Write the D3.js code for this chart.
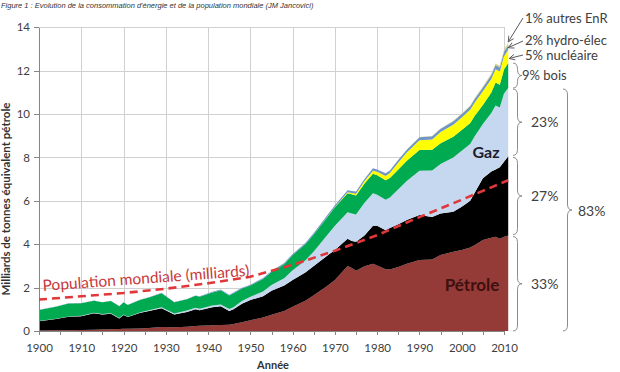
<!DOCTYPE html>
<html>
<head>
<meta charset="utf-8">
<script src="https://cdn.jsdelivr.net/npm/d3@7"></script>
<style>
  body { margin: 0; background: #fff; }
  svg { display: block; font-family: Lato, "Open Sans", sans-serif; }
  .grid line { stroke: #d0d0d0; stroke-width: 1; shape-rendering: crispEdges; }
  .axis path, .axis line { stroke: #868686; shape-rendering: crispEdges; }
  .axis text { fill: #404040; font-size: 11.5px; font-family: Lato, sans-serif; }
  .note { fill: #404040; font-size: 13px; }
  .pct { fill: #404040; font-size: 14px; }
  .brace { fill: none; stroke: #8c8c8c; stroke-width: 1; }
</style>
</head>
<body>
<svg id="chart" width="620" height="372"></svg>
<script>
// ---- données (Gtep) ----
const years = [1900,1904,1907,1910,1913,1915,1917,1919,1920,1921,
  1924,1926,1929,1932,1935,1937,1938,1941,1943,1945,
  1946,1948,1950,1953,1955,1958,1960,1963,1965,
  1968,1970,1973,1974,1975,1977,1979,1980,1982,1983,
  1985,1987,1990,1993,1995,1998,2000,2002,2003,2005,
  2007,2008,2009,2010,2011];

const petrole = [.02,.03,.04,.05,.06,.07,.08,.09,.10,.10,
  .12,.14,.18,.17,.20,.23,.24,.27,.28,.29,
  .32,.40,.50,.62,.75,.92,1.12,1.40,1.65,
  2.05,2.35,3.00,2.90,2.78,2.98,3.10,3.02,2.85,2.84,
  2.95,3.10,3.27,3.30,3.50,3.65,3.73,3.85,3.95,4.19,
  4.30,4.35,4.25,4.35,4.40];

const charbon = [.43,.52,.62,.63,.76,.69,.72,.49,.64,.54,
  .72,.78,.87,.59,.68,.77,.72,.83,.86,.63,
  .68,.86,.93,.98,1.10,1.18,1.23,1.30,1.35,
  1.40,1.38,1.25,1.25,1.34,1.42,1.75,1.83,1.80,1.91,
  1.97,2.02,2.08,1.95,1.92,1.85,2.00,2.15,2.40,2.85,
  3.05,3.10,3.30,3.45,3.65];

const gaz = [.01,.01,.01,.02,.02,.02,.02,.02,.02,.02,
  .03,.04,.05,.05,.06,.07,.07,.08,.08,.09,
  .10,.12,.15,.22,.27,.33,.45,.55,.67,
  .93,1.12,1.22,1.27,1.25,1.51,1.50,1.43,1.40,1.40,
  1.61,1.80,2.04,2.15,2.28,2.50,2.58,2.62,2.60,2.50,
  2.70,2.95,2.75,3.15,3.15];

const bois = [.51,.56,.60,.58,.56,.54,.56,.54,.56,.54,
  .57,.58,.64,.51,.52,.55,.55,.60,.66,.63,
  .64,.58,.52,.58,.60,.65,.70,.75,.78,
  .82,.85,.88,.88,.88,.89,.90,.90,.90,.90,
  .92,.93,.95,.95,.95,.95,.95,.97,.95,.88,
  .95,1.05,1.05,1.10,1.15];

const nucleaire = [0,0,0,0,0,0,0,0,0,0,
  0,0,0,0,0,0,0,0,0,0,
  0,0,0,0,0,0,0,0,0,
  .01,.02,.05,.06,.08,.11,.14,.16,.20,.23,
  .32,.38,.45,.48,.52,.56,.58,.61,.61,.63,
  .62,.62,.61,.62,.61];

const hydro = [.01,.01,.01,.01,.01,.01,.01,.01,.01,.01,
  .015,.015,.02,.02,.02,.02,.02,.025,.03,.03,
  .03,.03,.035,.04,.045,.05,.055,.06,.065,
  .075,.08,.09,.095,.10,.10,.11,.11,.12,.12,
  .13,.13,.14,.15,.155,.16,.165,.165,.17,.18,
  .185,.19,.19,.20,.20];

const autres = [0,0,0,0,0,0,0,0,0,0,
  0,0,0,0,0,0,0,0,0,0,
  0,0,0,0,0,0,0,0,0,
  0,0,0,0,0,0,0,0,0,0,
  0,0,.01,.01,.015,.02,.025,.03,.035,.045,
  .06,.07,.08,.10,.12];

// population mondiale (milliards)
const popYears = [1900,1910,1920,1930,1940,1950,1960,1970,1980,1990,2000,2011];
const population = [1.45,1.6,1.75,1.95,2.2,2.5,3.05,3.7,4.42,5.25,6.05,6.95];

const keys = ["petrole","charbon","gaz","bois","nucleaire","hydro","autres"];
const colors = {
  petrole: "#943a37", charbon: "#000000", gaz: "#c6d8ef", bois: "#00aa50",
  nucleaire: "#ffff00", hydro: "#7096c6", autres: "#d8cf8a"
};

const yTicks = [0,2,4,6,8,10,12,14];
const xLabelYears = d3.range(1900, 2011, 10);
const xTickYears = d3.range(1900, 2011, 5);

// ---- rendu ----
const svg = d3.select("#chart");

const x = d3.scaleLinear().domain([1900, 2010]).range([39, 504]);
const y = d3.scaleLinear().domain([0, 14]).range([331, 27.3]);

// titre
svg.append("text")
  .attr("x", 1).attr("y", 7.5)
  .attr("font-family", "'Liberation Sans', Arial, sans-serif")
  .attr("font-style", "italic")
  .attr("font-size", 7.5)
  .attr("fill", "#333")
  .text("Figure 1 : Evolution de la consommation d'énergie et de la population mondiale (JM Jancovici)");

// grille
const grid = svg.append("g").attr("class", "grid");
grid.selectAll(".h").data(yTicks.slice(1)).join("line")
  .attr("x1", x(1900)).attr("x2", x(2010))
  .attr("y1", d => Math.round(y(d)) + 0.5).attr("y2", d => Math.round(y(d)) + 0.5);
grid.selectAll(".v").data(xLabelYears.slice(1)).join("line")
  .attr("x1", d => Math.round(x(d)) + 0.5).attr("x2", d => Math.round(x(d)) + 0.5)
  .attr("y1", y(14)).attr("y2", y(0));

// aires empilées
const rows = years.map((yr, i) => ({
  year: yr, petrole: petrole[i], charbon: charbon[i], gaz: gaz[i], bois: bois[i],
  nucleaire: nucleaire[i], hydro: hydro[i], autres: autres[i]
}));
const series = d3.stack().keys(keys)(rows);
const area = d3.area()
  .x(d => x(d.data.year))
  .y0(d => y(d[0]))
  .y1(d => y(d[1]));

svg.append("g").selectAll("path").data(series).join("path")
  .attr("fill", d => colors[d.key])
  .attr("d", area);

// axes
svg.append("g").attr("class", "axis")
  .attr("transform", `translate(${x(1900)},0)`)
  .call(d3.axisLeft(y).tickValues(yTicks).tickSize(5).tickPadding(4).tickSizeOuter(0));

const xAxis = svg.append("g").attr("class", "axis")
  .attr("transform", `translate(0,${y(0)})`)
  .call(d3.axisBottom(x).tickValues(xTickYears).tickSize(4).tickSizeOuter(0)
    .tickFormat(d => d % 10 === 0 ? d : ""));
xAxis.selectAll("text").attr("dy", "1.25em");

// population
svg.append("path")
  .datum(popYears.map((yr, i) => [yr, population[i]]))
  .attr("fill", "none")
  .attr("stroke", "#e0373a")
  .attr("stroke-width", 2.6)
  .attr("stroke-dasharray", "8,5")
  .attr("d", d3.line().x(d => x(d[0])).y(d => y(d[1])));

svg.append("text")
  .attr("transform", `translate(43,291) rotate(-4.2)`)
  .attr("fill", "#c8383a")
  .attr("font-size", 15.5)
  .text("Population mondiale (milliards)");

// libellés internes
svg.append("text")
  .attr("x", 486).attr("y", 158).attr("text-anchor", "middle")
  .attr("font-weight", "bold").attr("font-size", 16).attr("fill", "#1c1c2c")
  .text("Gaz");
svg.append("text")
  .attr("x", 472).attr("y", 291).attr("text-anchor", "middle")
  .attr("font-weight", "bold").attr("font-size", 17).attr("fill", "#3e1010")
  .text("Pétrole");

// titres d'axes
svg.append("text")
  .attr("transform", `translate(10,199) rotate(-90)`)
  .attr("text-anchor", "middle")
  .attr("font-weight", "bold").attr("font-size", 11.5).attr("fill", "#333")
  .text("Milliards de tonnes équivalent pétrole");
svg.append("text")
  .attr("x", 273).attr("y", 369).attr("text-anchor", "middle")
  .attr("font-weight", "bold").attr("font-size", 11).attr("fill", "#333")
  .text("Année");

// accolades et pourcentages à droite
const last = series.map(s => s[s.length - 1]);
const topOf = k => last[keys.indexOf(k)][1];
const botOf = k => last[keys.indexOf(k)][0];

function brace(x0, y1, y2, w) {
  const q = Math.min(6, (y2 - y1) / 4), xm = x0 + w / 2, ym = (y1 + y2) / 2;
  return `M${x0},${y1} Q${xm},${y1} ${xm},${y1 + q} L${xm},${ym - q} Q${xm},${ym} ${x0 + w},${ym}` +
         ` Q${xm},${ym} ${xm},${ym + q} L${xm},${y2 - q} Q${xm},${y2} ${x0},${y2}`;
}

const braces = [
  { y1: y(topOf("bois")), y2: y(botOf("bois")), x0: 513, label: "9% bois", cls: "note", lx: 522, dy: 4.5 },
  { y1: y(topOf("gaz")) + 1, y2: y(botOf("gaz")) - 1, x0: 513, label: "23%", cls: "pct", lx: 531, dy: 5 },
  { y1: y(topOf("charbon")) + 1, y2: y(botOf("charbon")) - 1, x0: 513, label: "27%", cls: "pct", lx: 531, dy: 5 },
  { y1: y(topOf("petrole")) + 1, y2: y(0), x0: 513, label: "33%", cls: "pct", lx: 531, dy: 5 },
  { y1: y(topOf("gaz")) + 1, y2: y(0), x0: 563, label: "83%", cls: "pct", lx: 578, dy: 5.5, big: true }
];
braces.forEach(b => {
  svg.append("path").attr("class", "brace").attr("d", brace(b.x0, b.y1, b.y2, 9));
  svg.append("text").attr("class", b.cls)
    .attr("x", b.lx).attr("y", (b.y1 + b.y2) / 2 + b.dy)
    .attr("font-size", b.big ? 15.5 : null)
    .text(b.label);
});

// flèches
svg.append("defs").append("marker")
  .attr("id", "arr").attr("viewBox", "0 0 10 10").attr("refX", 9).attr("refY", 5)
  .attr("markerWidth", 7).attr("markerHeight", 7).attr("orient", "auto")
  .append("path").attr("d", "M1,1 L9,5 L1,9").attr("fill", "none")
  .attr("stroke", "#595959").attr("stroke-width", 1.3);

const xe = x(2011);
const arrows = [
  { label: "1% autres EnR", ly: 23, from: [523, 18], to: [xe, y(topOf("autres")) - 1] },
  { label: "2% hydro-élec", ly: 45, from: [523, 41], to: [xe, y((topOf("hydro") + botOf("hydro")) / 2)] },
  { label: "5% nucléaire", ly: 60, from: [523, 55], to: [xe + 1, y((topOf("nucleaire") + botOf("nucleaire")) / 2) + 2] }
];
arrows.forEach(a => {
  svg.append("line")
    .attr("x1", a.from[0]).attr("y1", a.from[1]).attr("x2", a.to[0]).attr("y2", a.to[1])
    .attr("stroke", "#595959").attr("stroke-width", 1).attr("marker-end", "url(#arr)");
  svg.append("text").attr("class", "note").attr("x", 525).attr("y", a.ly).text(a.label);
});
</script>
</body>
</html>
